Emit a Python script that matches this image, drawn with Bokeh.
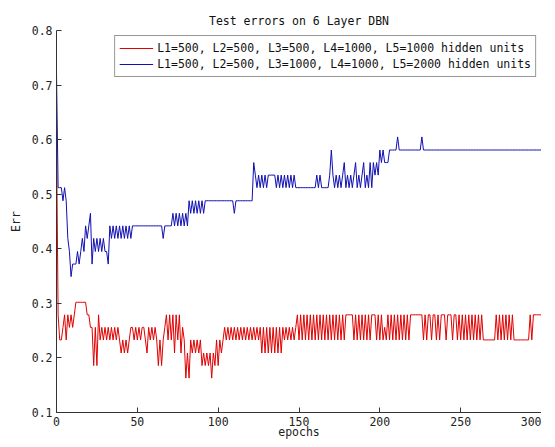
from bokeh.plotting import figure
from bokeh.models import Range1d, FixedTicker, PrintfTickFormatter
from bokeh.embed import file_html
from bokeh.resources import INLINE

epochs = list(range(301))

x_ticks = [0, 50, 100, 150, 200, 250, 300]
y_ticks = [0.1, 0.2, 0.3, 0.4, 0.5, 0.6, 0.7, 0.8]

label_red = "L1=500, L2=500, L3=500, L4=1000, L5=1000 hidden units"
label_blue = "L1=500, L2=500, L3=1000, L4=1000, L5=2000 hidden units"

err_red = [
    0.605, 0.279, 0.233, 0.233, 0.256, 0.279, 0.233, 0.279, 0.256, 0.279,
    0.256, 0.279, 0.302, 0.302, 0.302, 0.302, 0.302, 0.302, 0.302, 0.279,
    0.279, 0.256, 0.256, 0.186, 0.256, 0.186, 0.279, 0.233, 0.256, 0.233,
    0.256, 0.233, 0.256, 0.233, 0.256, 0.233, 0.256, 0.233, 0.256, 0.233,
    0.209, 0.233, 0.209, 0.233, 0.209, 0.233, 0.256, 0.256, 0.233, 0.256,
    0.233, 0.256, 0.233, 0.256, 0.256, 0.233, 0.209, 0.256, 0.233, 0.256,
    0.233, 0.256, 0.233, 0.186, 0.233, 0.186, 0.233, 0.256, 0.279, 0.233,
    0.279, 0.233, 0.279, 0.209, 0.279, 0.233, 0.279, 0.209, 0.256, 0.233,
    0.163, 0.209, 0.163, 0.233, 0.209, 0.233, 0.209, 0.233, 0.209, 0.233,
    0.186, 0.209, 0.186, 0.209, 0.186, 0.209, 0.163, 0.209, 0.186, 0.233,
    0.186, 0.233, 0.209, 0.233, 0.256, 0.233, 0.256, 0.233, 0.256, 0.233,
    0.256, 0.233, 0.256, 0.233, 0.256, 0.233, 0.256, 0.233, 0.256, 0.233,
    0.256, 0.233, 0.256, 0.233, 0.256, 0.233, 0.256, 0.209, 0.256, 0.209,
    0.256, 0.209, 0.256, 0.209, 0.256, 0.209, 0.256, 0.209, 0.256, 0.209,
    0.256, 0.233, 0.256, 0.233, 0.256, 0.233, 0.256, 0.233, 0.256, 0.279,
    0.233, 0.279, 0.233, 0.279, 0.233, 0.279, 0.233, 0.279, 0.233, 0.279,
    0.233, 0.279, 0.233, 0.279, 0.233, 0.279, 0.233, 0.279, 0.233, 0.279,
    0.233, 0.279, 0.233, 0.279, 0.233, 0.279, 0.233, 0.279, 0.233, 0.279,
    0.279, 0.279, 0.279, 0.279, 0.233, 0.279, 0.233, 0.279, 0.233, 0.279,
    0.233, 0.279, 0.233, 0.279, 0.233, 0.279, 0.279, 0.279, 0.233, 0.279,
    0.233, 0.279, 0.233, 0.256, 0.233, 0.279, 0.233, 0.279, 0.233, 0.279,
    0.233, 0.279, 0.233, 0.279, 0.233, 0.279, 0.233, 0.279, 0.233, 0.279,
    0.279, 0.279, 0.279, 0.279, 0.279, 0.279, 0.279, 0.233, 0.279, 0.233,
    0.279, 0.279, 0.233, 0.279, 0.279, 0.233, 0.279, 0.233, 0.279, 0.279,
    0.279, 0.233, 0.279, 0.279, 0.279, 0.233, 0.279, 0.279, 0.233, 0.279,
    0.233, 0.279, 0.233, 0.279, 0.233, 0.279, 0.233, 0.279, 0.233, 0.279,
    0.233, 0.279, 0.233, 0.279, 0.233, 0.233, 0.233, 0.233, 0.233, 0.233,
    0.233, 0.233, 0.279, 0.233, 0.279, 0.233, 0.279, 0.233, 0.279, 0.233,
    0.279, 0.233, 0.279, 0.233, 0.233, 0.233, 0.233, 0.233, 0.233, 0.233,
    0.233, 0.233, 0.233, 0.279, 0.233, 0.279, 0.279, 0.279, 0.279, 0.279,
    0.279,
]

err_blue = [
    0.720, 0.512, 0.512, 0.512, 0.488, 0.512, 0.488, 0.419, 0.395, 0.349,
    0.372, 0.372, 0.372, 0.395, 0.372, 0.395, 0.419, 0.395, 0.442, 0.419,
    0.442, 0.465, 0.372, 0.419, 0.395, 0.419, 0.395, 0.419, 0.395, 0.419,
    0.395, 0.395, 0.372, 0.442, 0.419, 0.442, 0.419, 0.442, 0.419, 0.442,
    0.419, 0.442, 0.419, 0.442, 0.419, 0.442, 0.419, 0.442, 0.442, 0.442,
    0.442, 0.442, 0.442, 0.442, 0.442, 0.442, 0.442, 0.442, 0.442, 0.442,
    0.442, 0.442, 0.442, 0.442, 0.442, 0.442, 0.419, 0.442, 0.442, 0.442,
    0.442, 0.442, 0.465, 0.442, 0.465, 0.442, 0.465, 0.442, 0.465, 0.442,
    0.465, 0.442, 0.488, 0.465, 0.488, 0.465, 0.488, 0.465, 0.488, 0.465,
    0.488, 0.465, 0.488, 0.488, 0.488, 0.488, 0.488, 0.488, 0.488, 0.488,
    0.488, 0.488, 0.488, 0.488, 0.488, 0.488, 0.488, 0.488, 0.488, 0.488,
    0.465, 0.488, 0.488, 0.488, 0.488, 0.488, 0.488, 0.488, 0.488, 0.488,
    0.488, 0.488, 0.558, 0.535, 0.512, 0.535, 0.512, 0.535, 0.512, 0.535,
    0.512, 0.535, 0.535, 0.535, 0.535, 0.535, 0.512, 0.535, 0.512, 0.535,
    0.512, 0.535, 0.512, 0.535, 0.512, 0.535, 0.512, 0.535, 0.512, 0.512,
    0.512, 0.512, 0.512, 0.512, 0.512, 0.512, 0.512, 0.512, 0.512, 0.512,
    0.512, 0.535, 0.512, 0.535, 0.512, 0.512, 0.512, 0.512, 0.512, 0.535,
    0.581, 0.535, 0.512, 0.535, 0.512, 0.535, 0.512, 0.535, 0.558, 0.512,
    0.535, 0.512, 0.535, 0.512, 0.535, 0.558, 0.512, 0.535, 0.512, 0.535,
    0.558, 0.512, 0.535, 0.512, 0.558, 0.512, 0.558, 0.535, 0.558, 0.535,
    0.581, 0.558, 0.581, 0.558, 0.558, 0.558, 0.581, 0.581, 0.581, 0.581,
    0.581, 0.605, 0.581, 0.581, 0.581, 0.581, 0.581, 0.581, 0.581, 0.581,
    0.581, 0.581, 0.581, 0.581, 0.581, 0.581, 0.605, 0.581, 0.581, 0.581,
    0.581, 0.581, 0.581, 0.581, 0.581, 0.581, 0.581, 0.581, 0.581, 0.581,
    0.581, 0.581, 0.581, 0.581, 0.581, 0.581, 0.581, 0.581, 0.581, 0.581,
    0.581, 0.581, 0.581, 0.581, 0.581, 0.581, 0.581, 0.581, 0.581, 0.581,
    0.581, 0.581, 0.581, 0.581, 0.581, 0.581, 0.581, 0.581, 0.581, 0.581,
    0.581, 0.581, 0.581, 0.581, 0.581, 0.581, 0.581, 0.581, 0.581, 0.581,
    0.581, 0.581, 0.581, 0.581, 0.581, 0.581, 0.581, 0.581, 0.581, 0.581,
    0.581, 0.581, 0.581, 0.581, 0.581, 0.581, 0.581, 0.581, 0.581, 0.581,
    0.581,
]

FONT = "DejaVu Sans Mono"

p = figure(width=541, height=441, output_backend="svg", toolbar_location=None,
           x_range=Range1d(0, 300), y_range=Range1d(0.1, 0.8),
           min_border_left=56, min_border_right=0, min_border_top=30, min_border_bottom=26,
           title="Test errors on 6 Layer DBN")

p.title.text_font = FONT
p.title.text_font_size = "11.5px"
p.title.text_font_style = "normal"
p.title.text_color = "#111111"
p.title.align = "center"
p.title.standoff = 6

p.outline_line_color = None
p.xgrid.visible = False
p.ygrid.visible = False
p.background_fill_color = "white"
p.border_fill_color = "white"

for ax in (p.xaxis[0], p.yaxis[0]):
    ax.axis_line_color = "#333333"
    ax.major_tick_line_color = "#333333"
    ax.major_tick_in = 5
    ax.major_tick_out = 0
    ax.minor_tick_line_color = None
    ax.major_label_text_font = FONT
    ax.major_label_text_font_size = "11.5px"
    ax.major_label_text_color = "#222222"
    ax.axis_label_text_font = FONT
    ax.axis_label_text_font_size = "11.5px"
    ax.axis_label_text_font_style = "normal"
    ax.axis_label_text_color = "#222222"

p.xaxis.ticker = FixedTicker(ticks=x_ticks)
p.yaxis.ticker = FixedTicker(ticks=y_ticks)
p.yaxis.formatter = PrintfTickFormatter(format="%.1f")
p.xaxis.axis_label = "epochs"
p.yaxis.axis_label = "Err"
p.xaxis.major_label_standoff = 4
p.xaxis.axis_label_standoff = -4
p.yaxis.major_label_standoff = 4
p.yaxis.axis_label_standoff = 6

p.line(epochs, err_red, line_color="#e00000", line_width=1, legend_label=label_red)
p.line(epochs, err_blue, line_color="#1010b0", line_width=1, legend_label=label_blue)

lg = p.legend[0]
lg.location = "top_right"
lg.margin = 5
lg.padding = 4
lg.spacing = 0
lg.glyph_width = 34
lg.glyph_height = 16
lg.label_height = 16
lg.label_standoff = 4
lg.label_text_font = FONT
lg.label_text_font_size = "11.5px"
lg.label_text_color = "#111111"
lg.border_line_color = "#333333"
lg.border_line_width = 1
lg.background_fill_color = "white"
lg.background_fill_alpha = 1.0

open("out.html", "w").write(file_html(p, INLINE))
